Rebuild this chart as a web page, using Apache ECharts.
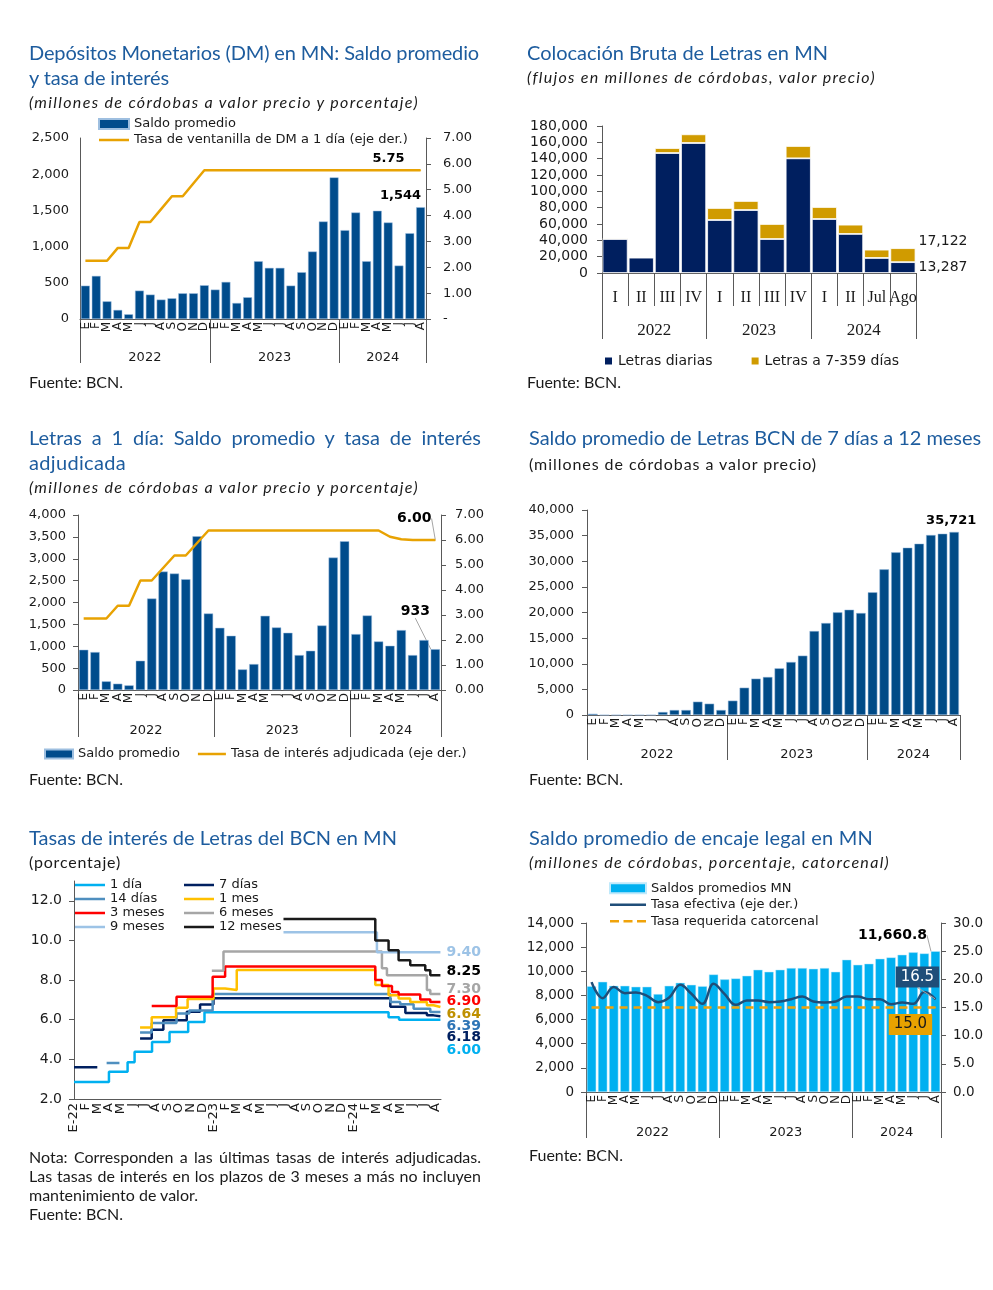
<!DOCTYPE html>
<html><head><meta charset="utf-8">
<script src="https://cdn.jsdelivr.net/npm/echarts@6/dist/echarts.min.js"></script>
<style>
html,body{margin:0;padding:0;background:#fff;}
#page{position:relative;width:993px;height:1290px;overflow:hidden;background:#fff;}
#chart{position:absolute;left:0;top:0;width:993px;height:1290px;}
.t{position:absolute;z-index:2;font-family:Lato,'Noto Sans',sans-serif;color:#1d5c9e;font-size:20px;line-height:25px;white-space:nowrap;}
.s{position:absolute;z-index:2;font-family:Lato,'Noto Sans',sans-serif;color:#1a1a1a;font-size:16px;line-height:20px;white-space:nowrap;}
.i{font-style:italic;}
.f{position:absolute;z-index:2;font-family:Lato,'Noto Sans',sans-serif;color:#1a1a1a;font-size:16px;line-height:19px;white-space:nowrap;}
</style></head>
<body>
<div id="page">
<div id="chart"></div>
<div class="t" data-fit="450" style="left:29px;top:40px">Depósitos Monetarios (DM) en MN: Saldo promedio</div>
<div class="t" data-fit="140" style="left:29px;top:65px">y tasa de interés</div>
<div class="s i" data-fit="390" style="left:29px;top:92px">(millones de córdobas a valor precio y porcentaje)</div>
<div class="f" data-fit="94" style="left:29px;top:372px">Fuente: BCN.</div>

<div class="t" data-fit="301" style="left:527px;top:40px">Colocación Bruta de Letras en MN</div>
<div class="s i" data-fit="349" style="left:527px;top:67px">(flujos en millones de córdobas, valor precio)</div>
<div class="f" data-fit="94" style="left:527px;top:372px">Fuente: BCN.</div>

<div class="t" data-just="452" style="left:29px;top:425px">Letras a 1 día: Saldo promedio y tasa de interés</div>
<div class="t" data-fit="97" style="left:29px;top:450px">adjudicada</div>
<div class="s i" data-fit="390" style="left:29px;top:477px">(millones de córdobas a valor precio y porcentaje)</div>
<div class="f" data-fit="94" style="left:29px;top:769px">Fuente: BCN.</div>

<div class="t" data-fit="452" style="left:529px;top:425px">Saldo promedio de Letras BCN de 7 días a 12 meses</div>
<div class="s" data-fit="288" style="left:529px;top:454px">(millones de córdobas a valor precio)</div>
<div class="f" data-fit="94" style="left:529px;top:769px">Fuente: BCN.</div>

<div class="t" data-fit="368" style="left:29px;top:825px">Tasas de interés de Letras del BCN en MN</div>
<div class="s" data-fit="92" style="left:29px;top:852px">(porcentaje)</div>
<div class="f" data-just="452" style="left:29px;top:1147px">Nota: Corresponden a las últimas tasas de interés adjudicadas.</div>
<div class="f" data-just="452" style="left:29px;top:1166px">Las tasas de interés en los plazos de 3 meses a más no incluyen</div>
<div class="f" style="left:29px;top:1185px">mantenimiento de valor.</div>
<div class="f" data-fit="94" style="left:29px;top:1204px">Fuente: BCN.</div>

<div class="t" data-fit="344" style="left:529px;top:825px">Saldo promedio de encaje legal en MN</div>
<div class="s i" data-fit="361" style="left:529px;top:852px">(millones de córdobas, porcentaje, catorcenal)</div>
<div class="f" data-fit="94" style="left:529px;top:1145px">Fuente: BCN.</div>
</div>
<script>
// ---------- shared categories ----------
const monthLetters = ['E','F','M','A','M','J','J','A','S','O','N','D'];
const years = ['2022','2023','2024'];
const monthsPerYear = [12,12,8];

// ---------- Chart 1: Depósitos Monetarios ----------
const dmSaldo = [460,595,244,125,65,392,337,268,286,355,355,466,
                 406,512,221,300,798,706,706,461,646,932,1347,1956,
                 1227,1471,798,1495,1333,738,1185,1544];
const dmTasa = [2.25,2.25,2.25,2.75,2.75,3.75,3.75,4.25,4.75,4.75,5.25,5.75,
                5.75,5.75,5.75,5.75,5.75,5.75,5.75,5.75,5.75,5.75,5.75,5.75,
                5.75,5.75,5.75,5.75,5.75,5.75,5.75,5.75];

// ---------- Chart 2: Colocación Bruta de Letras ----------
const quarterCats = ['I','II','III','IV','I','II','III','IV','I','II','Jul','Ago'];
const quartersPerYear = [4,4,4];
const letrasDiarias = [41600,18800,146900,159200,64900,77100,41600,140400,66100,47800,18400,13287];
const letras7a359 = [1300,800,6100,10600,14700,11100,18400,15100,14700,11400,10200,17122];

// ---------- Chart 3: Letras a 1 día ----------
const l1Saldo = [920,867,198,144,106,669,2091,2707,2662,2532,3513,1749,
                 1422,1240,471,593,1696,1430,1308,798,897,1475,3027,3400,
                 1278,1703,1110,1011,1369,798,1141,933];
const l1Tasa = [2.86,2.86,2.86,3.37,3.37,4.38,4.38,4.88,5.38,5.38,5.88,6.38,
                6.38,6.38,6.38,6.38,6.38,6.38,6.38,6.38,6.38,6.38,6.38,6.38,
                6.38,6.38,6.38,6.13,6.03,6.00,6.00,6.00];

// ---------- Chart 4: Letras 7 días a 12 meses ----------
const l7a12Saldo = [250,0,0,0,0,0,585,975,975,2600,2210,975,
                    2800,5330,7090,7420,9110,10340,11580,16390,17950,20030,20550,19900,
                    23940,28420,31740,32650,33430,35120,35380,35721];

// ---------- Chart 5: Tasas de interés de Letras (month index, rate) ----------
const chart5Ticks = ['E-22','F','M','A','M','J','J','A','S','O','N','D',
                     'E-23','F','M','A','M','J','J','A','S','O','N','D',
                     'E-24','F','M','A','M','J','J','A'];
const tasa1dia = [[0,2.86],[3.0,3.37],[4.6,3.85],[5.2,4.38],[6.7,4.88],[8.2,5.38],[9.8,5.88],[11.2,6.38],[27.0,6.13],[27.9,6.00],[31.45,6.00]];
const tasa7dias = [[0,3.6],[2.0,3.6],[2.0,null],[5.67,5.05],[6.67,5.5],[7.67,5.97],[9.68,6.4],[10.82,6.77],[11.97,7.08],[27.15,6.65],[28.44,6.34],[30.29,6.22],[30.86,6.18],[31.45,6.18]];
const tasa14dias = [[2.8,3.82],[3.9,3.82],[3.9,null],[5.67,5.35],[6.67,5.84],[8.8,6.32],[9.9,6.47],[11.9,7.3],[27.15,6.9],[28.0,6.78],[29.15,6.56],[30.58,6.39],[31.45,6.39]];
const tasa1mes = [[5.67,5.61],[6.67,6.12],[8.76,6.6],[9.75,7.05],[11.97,7.58],[12.97,7.5],[13.97,8.51],[25.86,7.75],[27.0,7.24],[27.86,7.07],[28.86,6.9],[30.29,6.73],[30.86,6.64],[31.45,6.64]];
const tasa3meses = [[6.67,6.69],[8.8,7.16],[11.9,8.17],[12.97,8.68],[25.86,8.0],[26.43,7.7],[27.29,7.4],[27.86,7.27],[29.72,7.02],[30.58,6.9],[31.45,6.9]];
const tasa6meses = [[11.83,8.47],[12.83,9.44],[26.43,8.6],[26.86,8.25],[30.29,7.5],[30.58,7.3],[31.45,7.3]];
const tasa9meses = [[17.98,10.41],[26.0,9.4],[31.45,9.4]];
const tasa12meses = [[17.98,11.08],[25.86,10.0],[27.0,9.5],[27.86,9.0],[28.86,8.75],[30.15,8.5],[30.58,8.25],[31.45,8.25]];

// ---------- Chart 6: Encaje legal ----------
const encajeSaldo = [8770,9130,8800,8800,8720,8720,8110,8800,9050,8880,8770,9740,
                     9330,9410,9630,10130,9960,10130,10270,10270,10210,10270,9960,10960,
                     10540,10630,11040,11150,11370,11570,11480,11660.8];
const encajeTasa = [19.5,16.66,18.62,17.55,17.66,17.07,15.95,16.77,19.03,17.43,15.65,19.2,
                    17.37,15.47,16.24,16.24,15.95,16.06,16.48,16.96,16.06,15.89,16.06,16.96,
                    16.96,16.48,16.48,15.59,15.89,15.65,17.73,16.5];
const encajeReq = [15,15,15,15,15,15,15,15,15,15,15,15,
                   15,15,15,15,15,15,15,15,15,15,15,15,
                   15,15,15,15,15,15,15,15];

// ---------- helpers ----------
const FF = "'DejaVu Sans', Verdana, sans-serif";
const SERIF = "'Liberation Serif', 'Times New Roman', serif";
const TXT = '#1a1a1a';
const AX = '#595959';
const fmtK = v => String(v).replace(/\B(?=(\d{3})+(?!\d))/g, ',');

const monthCats = [], monthLabels = [];
years.forEach((y,i)=>{ for(let k=0;k<monthsPerYear[i];k++){ monthCats.push(y+'-'+(k+1)); monthLabels.push(monthLetters[k]); } });
const yearStarts = []; { let a=0; monthsPerYear.forEach(c=>{yearStarts.push(a); a+=c;}); }
const qCats = quarterCats.map((q,i)=>q+'|'+i);
const qStarts = []; { let a=0; quartersPerYear.forEach(c=>{qStarts.push(a); a+=c;}); }

const lbl = (size, extra) => Object.assign({color:TXT, fontFamily:FF, fontSize:size}, extra||{});
const axLine = {show:true, onZero:false, lineStyle:{color:AX, width:1}};

// legend icon: a thin horizontal bar (optionally dashed) inside a w x h box
function lineIcon(w, h, dashed){
  const t = 2.5, y = (h - t)/2;
  let p = 'path://M0,0h'+w+'v0.01h-'+w+'z ';
  if(dashed){
    const seg = w/4;
    for(let x=0; x < w-0.1; x += seg*1.5) p += 'M'+x+','+y+'h'+seg+'v'+t+'h-'+seg+'z ';
  } else {
    p += 'M0,'+y+'h'+w+'v'+t+'h-'+w+'z ';
  }
  p += 'M0,'+(h-0.01)+'h'+w+'v0.01h-'+w+'z';
  return p;
}

// category axis for the bars (line + year separators, no labels)
function monthXAxis(grid, sepLen){
  return {type:'category', gridIndex:grid, position:'bottom', data:monthCats, boundaryGap:true,
    axisLine:axLine,
    axisTick:{show:true, inside:false, length:sepLen, interval:(i)=>yearStarts.indexOf(i)>=0, lineStyle:{color:AX}},
    axisLabel:{show:false}, splitLine:{show:false}};
}
// two value axes (even / odd months) carrying the rotated month letters at exact positions
function monthLabelAxes(grid, labels, extentMax, offset, size, margin){
  return [0,1].map(parity=>{
    const vals = [];
    labels.forEach((l,i)=>{ if(i%2===parity) vals.push(i+offset); });
    return {type:'value', gridIndex:grid, position:'bottom', min:0, max:extentMax,
      axisLine:{show:false}, axisTick:{show:false}, splitLine:{show:false},
      axisLabel:lbl(size,{rotate:90, margin:margin, hideOverlap:false, showMinLabel:true, showMaxLabel:true,
        customValues:vals,
        formatter:v=>{ const i=Math.round(v-offset); return (Math.abs(v-offset-i)<1e-6 && i>=0 && i<labels.length && i%2===parity) ? labels[i] : ''; }})};
  });
}
function yearXAxis(grid, counts, margin, size, family){
  const centers = {}; let a=0; counts.forEach((c,i)=>{centers[a+c/2]=years[i]; a+=c;});
  return {type:'value', gridIndex:grid, position:'bottom', min:0, max:a, interval:2,
    axisLine:{show:false}, axisTick:{show:false}, splitLine:{show:false},
    axisLabel:lbl(size,{margin:margin, fontFamily:family||FF, hideOverlap:false, formatter:v=>centers[v]||'', showMinLabel:true, showMaxLabel:true})};
}
function yAx(grid, pos, min, max, interval, fmt, margin, ticks, size, extra){
  return Object.assign({type:'value', gridIndex:grid, position:pos, min:min, max:max, interval:interval,
    axisLine:axLine, axisTick:{show:ticks, length:5, inside:false, lineStyle:{color:AX}},
    axisLabel:lbl(size||13,{margin:margin, formatter:fmt}), splitLine:{show:false}}, extra||{});
}
const withLast = (arr, extra) => arr.map((v,i)=> i===arr.length-1 ? Object.assign({value:v}, extra) : v);
const boldLbl = (size, extra) => Object.assign({show:true, color:'#000', fontWeight:'bold', fontFamily:FF, fontSize:size}, extra||{});
const G = (l,t,w,h)=>({left:l, top:t, width:w, height:h, containLabel:false, outerBoundsMode:'none'});

const BAR = '#004C8C';
const GOLD = '#E8A202';
const NM = monthLabels.length;

const option = {
  animation:false,
  backgroundColor:'#fff',
  grid:[G(80,138,346,181), G(602,126,314,147), G(78,515,363,175), G(587,510,373,205), G(74,881,367,218), G(586,923,355,169)],
  xAxis:[
    monthXAxis(0,44),                                   // 0
    yearXAxis(0,monthsPerYear,32,13),                   // 1
    {type:'category', gridIndex:1, position:'bottom', data:qCats, boundaryGap:true, axisLine:axLine,   // 2
      axisTick:{show:true, length:33, interval:0, lineStyle:{color:AX}},
      axisLabel:lbl(16,{fontFamily:SERIF, interval:0, margin:17, hideOverlap:false, formatter:v=>v.split('|')[0]}), splitLine:{show:false}},
    {type:'category', gridIndex:1, position:'bottom', data:qCats, boundaryGap:true, axisLine:{show:false},  // 3
      axisTick:{show:true, length:66, interval:(i)=>qStarts.indexOf(i)>=0, lineStyle:{color:AX}},
      axisLabel:{show:false}, splitLine:{show:false}},
    yearXAxis(1,quartersPerYear,49,17,SERIF),           // 4
    monthXAxis(2,47),                                   // 5
    yearXAxis(2,monthsPerYear,34,13),                   // 6
    monthXAxis(3,45),                                   // 7
    yearXAxis(3,monthsPerYear,33,13),                   // 8
    {type:'value', gridIndex:4, position:'bottom', min:0, max:31.5, interval:1, axisLine:axLine,    // 9
      axisTick:{show:false}, splitLine:{show:false}, axisLabel:{show:false}},
    monthXAxis(5,46),                                   // 10
    yearXAxis(5,monthsPerYear,34,13),                   // 11
    ...monthLabelAxes(0, monthLabels, NM, 0.5, 12, 3),
    ...monthLabelAxes(2, monthLabels, NM, 0.5, 12, 3),
    ...monthLabelAxes(3, monthLabels, NM, 0.5, 12, 3),
    ...monthLabelAxes(5, monthLabels, NM, 0.5, 12, 3),
    ...monthLabelAxes(4, chart5Ticks, 31.5, 0, 13, 4)
  ],
  yAxis:[
    yAx(0,'left',0,2500,500,fmtK,11,false),
    yAx(0,'right',0,7,1,v=>v===0?'-':v.toFixed(2),17,true),
    yAx(1,'left',0,180000,20000,fmtK,14,true,14),
    yAx(2,'left',0,4000,500,fmtK,12,true),
    yAx(2,'right',0,7,1,v=>v.toFixed(2),14,true),
    yAx(3,'left',0,40000,5000,fmtK,13,true),
    yAx(4,'left',2,13,2,v=>v.toFixed(1),12,true,14,{axisLabel:lbl(14,{margin:12, showMaxLabel:false, formatter:v=>v.toFixed(1)})}),
    yAx(5,'left',0,14000,2000,fmtK,12,true,13.5),
    yAx(5,'right',0,30,5,v=>v.toFixed(1),12,true,13.5)
  ],
  legend:[
    {left:93, top:111, orient:'vertical', selectedMode:false, itemWidth:30, itemHeight:10, itemGap:0,
      textStyle:lbl(13,{lineHeight:16}), data:[{name:'Saldo promedio', icon:'rect'}, {name:'Tasa de ventanilla de DM a 1 día (eje der.)', icon:lineIcon(30,10)}]},
    {left:598, top:348, orient:'horizontal', selectedMode:false, itemWidth:9, itemHeight:9, itemGap:37,
      textStyle:lbl(14,{lineHeight:16}), data:[{name:'Letras diarias', icon:'rect'}, {name:'Letras a 7-359 días', icon:'rect'}]},
    {left:39, top:741, orient:'horizontal', selectedMode:false, itemWidth:28, itemHeight:9, itemGap:18,
      textStyle:lbl(13,{lineHeight:16}), data:[{name:'Saldo promedio', icon:'rect'}, {name:'Tasa de interés adjudicada (eje der.)', icon:lineIcon(28,9)}]},
    {left:70, top:873, orient:'vertical', selectedMode:false, itemWidth:30, itemHeight:8, itemGap:0,
      textStyle:lbl(13,{lineHeight:14}), data:['1 día','14 días','3 meses','9 meses'].map(n=>({name:n, icon:lineIcon(30,8)}))},
    {left:179, top:873, orient:'vertical', selectedMode:false, itemWidth:30, itemHeight:8, itemGap:0,
      textStyle:lbl(13,{lineHeight:14}), data:['7 días','1 mes','6 meses','12 meses'].map(n=>({name:n, icon:lineIcon(30,8)}))},
    {left:604, top:875, orient:'vertical', selectedMode:false, itemWidth:36, itemHeight:10, itemGap:0,
      textStyle:lbl(13,{lineHeight:16.5}), data:[{name:'Saldos promedios MN', icon:'rect'}, {name:'Tasa efectiva (eje der.)', icon:lineIcon(36,10)}, {name:'Tasa requerida catorcenal', icon:lineIcon(36,10,true)}]}
  ],
  series:[
    // Chart 1
    {type:'bar', name:'Saldo promedio', xAxisIndex:0, yAxisIndex:0, barCategoryGap:'18%',
      itemStyle:{color:BAR, borderColor:'#9ebfe0', borderWidth:0.5},
      data:withLast(dmSaldo,{label:boldLbl(13,{position:'top', offset:[-20,0], formatter:p=>fmtK(p.value)})})},
    {type:'line', name:'Tasa de ventanilla de DM a 1 día (eje der.)', xAxisIndex:0, yAxisIndex:1, symbol:'none',
      lineStyle:{color:GOLD, width:2.5}, itemStyle:{color:GOLD},
      data:withLast(dmTasa,{symbol:'circle', symbolSize:1, label:boldLbl(13,{position:'top', offset:[-32,0], formatter:p=>p.value.toFixed(2)})})},
    // Chart 2
    {type:'bar', name:'Letras diarias', xAxisIndex:2, yAxisIndex:2, stack:'letras', barCategoryGap:'4%',
      itemStyle:{color:'#001F5F', borderColor:'#ffffff', borderWidth:0.8},
      data:withLast(letrasDiarias,{label:{show:true, position:'right', distance:3, color:TXT, fontFamily:FF, fontSize:14, formatter:p=>fmtK(p.value)}})},
    {type:'bar', name:'Letras a 7-359 días', xAxisIndex:2, yAxisIndex:2, stack:'letras', barCategoryGap:'4%',
      itemStyle:{color:'#D09B00', borderColor:'#ffffff', borderWidth:0.8},
      data:withLast(letras7a359,{label:{show:true, position:'right', distance:3, offset:[0,-14], color:TXT, fontFamily:FF, fontSize:14, formatter:p=>fmtK(p.value)}})},
    // Chart 3
    {type:'bar', name:'Saldo promedio', xAxisIndex:5, yAxisIndex:3, barCategoryGap:'18%',
      itemStyle:{color:BAR, borderColor:'#9ebfe0', borderWidth:0.5},
      labelLayout:{dx:-20, dy:-26}, labelLine:{show:true, lineStyle:{color:'#A6A6A6', width:1}},
      data:withLast(l1Saldo,{label:boldLbl(14,{position:'top', formatter:p=>fmtK(p.value)})})},
    {type:'line', name:'Tasa de interés adjudicada (eje der.)', xAxisIndex:5, yAxisIndex:4, symbol:'none',
      lineStyle:{color:GOLD, width:2.5}, itemStyle:{color:GOLD},
      labelLayout:{dx:-21, dy:-9}, labelLine:{show:true, lineStyle:{color:'#A6A6A6', width:1}},
      data:withLast(l1Tasa,{symbol:'circle', symbolSize:1, label:boldLbl(14,{position:'top', formatter:p=>p.value.toFixed(2)})})},
    // Chart 4
    {type:'bar', name:'Saldo Letras 7d-12m', xAxisIndex:7, yAxisIndex:5, barCategoryGap:'18%',
      itemStyle:{color:'#004B87', borderColor:'#9ebfe0', borderWidth:0.5},
      data:withLast(l7a12Saldo,{label:boldLbl(13,{position:'top', offset:[-3,0], formatter:p=>fmtK(p.value)})})},
    // Chart 5
    ...[
      ['1 día', tasa1dia, '#00B0F0', '#00B0F0', 31],
      ['7 días', tasa7dias, '#002060', '#002060', 21],
      ['14 días', tasa14dias, '#4F8FBF', '#2E75B6', 14],
      ['1 mes', tasa1mes, '#FFC000', '#BF9000', 7],
      ['3 meses', tasa3meses, '#FF0000', '#FF0000', -1],
      ['6 meses', tasa6meses, '#A6A6A6', '#A6A6A6', -5],
      ['9 meses', tasa9meses, '#9DC3E6', '#9DC3E6', 0],
      ['12 meses', tasa12meses, '#1A1A1A', '#000000', -4]
    ].map(([name, data, color, lcolor, dy]) => ({
      type:'line', name:name, xAxisIndex:9, yAxisIndex:6, step:'end', symbol:'none', connectNulls:false,
      lineStyle:{color:color, width:2.5}, itemStyle:{color:color},
      endLabel:{show:true, distance:6, offset:[0,dy], color:lcolor, fontWeight:'bold', fontFamily:FF, fontSize:14,
        formatter:p=>Number(p.value[1]).toFixed(2)},
      data:data
    })),
    // Chart 6
    {type:'bar', name:'Saldos promedios MN', xAxisIndex:10, yAxisIndex:7, barCategoryGap:'16%',
      itemStyle:{color:'#00B0F0', borderColor:'#bfe9fb', borderWidth:0.5},
      labelLayout:{dx:-43, dy:-4}, labelLine:{show:true, lineStyle:{color:'#A6A6A6', width:1}},
      data:withLast(encajeSaldo,{label:boldLbl(14,{position:'top', formatter:p=>fmtK(p.value)})})},
    {type:'line', name:'Tasa efectiva (eje der.)', xAxisIndex:10, yAxisIndex:8, symbol:'none', smooth:0.4,
      lineStyle:{color:'#1F4E79', width:2.5}, itemStyle:{color:'#1F4E79'},
      labelLayout:{dx:-18, dy:-6}, labelLine:{show:true, lineStyle:{color:'#A6A6A6', width:1}},
      data:withLast(encajeTasa,{symbol:'circle', symbolSize:1,
        label:{show:true, position:'top', backgroundColor:'#1F4E79', color:'#fff', padding:[3,5], fontFamily:FF, fontSize:15, formatter:p=>p.value.toFixed(1)}})},
    {type:'line', name:'Tasa requerida catorcenal', xAxisIndex:10, yAxisIndex:8, symbol:'none',
      lineStyle:{color:'#F0A30A', width:2.5, type:[8,6]}, itemStyle:{color:'#F0A30A'},
      data:withLast(encajeReq,{symbol:'circle', symbolSize:1,
        label:{show:true, position:'bottom', offset:[-25,1], backgroundColor:'#E8A200', color:TXT, padding:[3,5], fontFamily:FF, fontSize:15, formatter:p=>p.value.toFixed(1)}})}
  ]
};

const chart = echarts.init(document.getElementById('chart'), null, {renderer:'canvas'});
chart.setOption(option);

document.querySelectorAll('[data-fit]').forEach(el=>{
  const t=+el.dataset.fit, w=el.getBoundingClientRect().width, n=el.textContent.length;
  el.style.letterSpacing = ((t-w)/n)+'px';
});
document.querySelectorAll('[data-just]').forEach(el=>{
  const t=+el.dataset.just, w=el.getBoundingClientRect().width, n=(el.textContent.match(/ /g)||[]).length;
  if(n) el.style.wordSpacing = ((t-w)/n)+'px';
});
</script>
</body></html>
